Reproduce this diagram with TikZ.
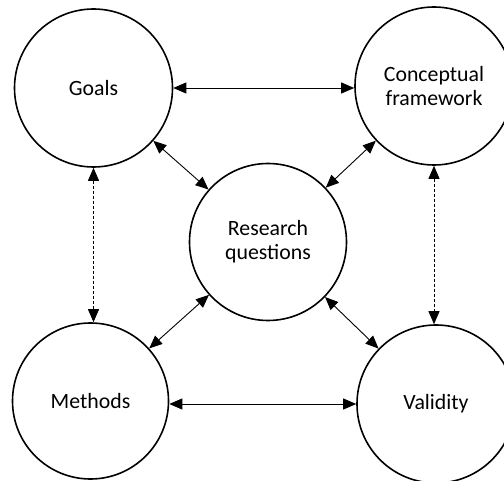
\documentclass[tikz,border=0pt]{standalone}
\usepackage{fontspec}
\setmainfont{Carlito}
\usetikzlibrary{arrows.meta}
\begin{document}
\begin{tikzpicture}[x=1pt,y=-1pt,
  circ/.style={circle,draw=black,line width=1.6pt,minimum size=#1,inner sep=0pt,align=center,font=\fontsize{21.8}{24}\selectfont},
  link/.style={line width=0.9pt,{Triangle[length=13pt,width=11pt]}-{Triangle[length=13pt,width=11pt]}},
  dlink/.style={link,dash pattern=on 3pt off 2pt}]
\useasboundingbox (0,0) rectangle (504,481);
\node[circ=158pt] (goals) at (93.5,88) {Goals};
\node[circ=158pt] (concept) at (434,86) {Conceptual\\framework};
\node[circ=157pt] (research) at (268,242) {Research\\questions};
\node[circ=156pt] (methods) at (90.5,401) {Methods};
\node[circ=158pt] (validity) at (436,404) {Validity};
\draw[link] (goals.east |- 0,88) -- (concept.west |- 0,88);
\draw[link] (methods.east |- validity.west) -- (validity.west);
\draw[dlink] (goals.south) -- (goals.south |- methods.north);
\draw[dlink] (concept.south) -- (concept.south |- validity.north);
\draw[link] (goals) -- (research);
\draw[link] (concept) -- (research);
\draw[link] (methods) -- (research);
\draw[link] (validity) -- (research);
\end{tikzpicture}
\end{document}
